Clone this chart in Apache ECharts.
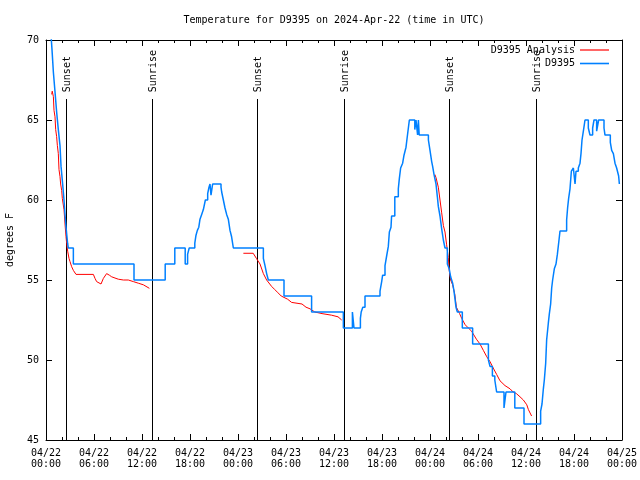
<!DOCTYPE html>
<html><head><meta charset="utf-8">
<script src="https://cdn.jsdelivr.net/npm/echarts@6/dist/echarts.min.js"></script>
<style>html,body{margin:0;padding:0;background:#fff}#c{width:640px;height:480px}</style>
</head><body><div id="c"></div>
<script>
// hours since 2024-04-22 00:00 UTC
const obsTimes = [0.60,0.75,0.92,1.12,1.33,1.54,1.75,1.88,2.08,2.25,2.42,2.58,2.70,2.79,3.42,11.0,14.9,16.1,17.4,17.7,17.9,18.6,18.75,18.92,19.1,19.25,19.46,19.67,19.92,20.21,20.375,20.5,20.625,20.83,21.875,21.96,22.17,22.375,22.58,22.79,23.0,23.2,23.42,27.17,27.375,27.58,27.79,29.75,33.2,37.17,38.3,38.5,39.3,39.4,39.6,39.875,41.75,41.96,42.08,42.375,42.58,42.79,42.92,43.125,43.2,43.6,44.04,44.17,44.33,44.58,44.75,45.0,45.17,45.42,46.1,46.25,46.45,46.55,46.65,47.8,48.0,48.21,48.33,48.5,48.75,48.92,49.04,49.25,49.46,49.67,49.875,50.17,50.4,50.58,50.83,51.0,51.25,51.42,52.04,53.33,55.3,55.5,55.8,56.1,56.33,57.25,57.5,58.6,59.75,61.83,62.0,62.17,62.29,62.46,62.58,62.79,62.92,63.08,63.21,63.33,63.54,63.75,63.92,64.125,64.25,65.08,65.2,65.33,65.5,65.67,65.92,66.13,66.25,66.54,66.75,66.875,67.0,67.17,67.375,67.79,68.0,68.33,68.5,68.83,69.08,69.75,69.875,70.54,70.71,70.92,71.125,71.33,71.58,71.67,71.75];
const obsTemps = [70.5,69.4,68.0,66.8,65.5,64.4,63.4,62.1,61.0,60.0,58.8,57.9,57.3,57.0,56.0,55.0,56.0,57.0,56.0,56.6,57.0,57.3,57.8,58.1,58.3,58.8,59.1,59.4,60.0,60.4,60.8,61.0,60.3,61.0,60.8,60.5,60.0,59.5,59.1,58.8,58.1,57.7,57.0,56.35,55.9,55.4,55.0,54.0,53.0,52.0,53.0,52.0,52.6,53.0,53.3,54.0,54.3,54.9,55.3,55.9,56.5,57.1,58.0,58.3,59.0,60.2,60.7,61.35,62.0,62.3,62.8,63.3,64.0,65.0,64.4,65.0,64.06,65.0,64.06,63.75,63.1,62.4,62.1,61.6,61.0,60.2,59.6,59.0,58.2,57.5,57.0,56.0,55.7,55.2,54.8,54.3,53.3,53.0,52.0,51.0,50.0,49.6,49.0,48.75,48.0,47.0,48.0,47.0,46.0,46.8,47.25,48.2,48.75,49.8,51.25,52.3,52.9,53.5,54.5,55.0,55.7,56.0,56.6,57.5,58.06,58.75,59.5,60.1,60.7,61.8,62.0,61.0,61.8,62.0,62.3,62.9,63.75,64.3,65.0,64.5,64.06,64.5,65.0,64.3,65.0,64.5,64.06,63.6,63.1,62.9,62.3,62.0,61.5,61.0,61.0];
const anaTimes = [0.71,0.78,0.85,0.92,1.0,1.125,1.21,1.33,1.42,1.54,1.625,1.75,1.83,1.96,2.04,2.25,2.375,2.5,2.58,2.71,2.875,3.0,3.21,3.42,3.75,5.92,6.125,6.33,6.875,7.17,7.58,7.92,8.21,8.75,9.04,9.67,10.29,10.92,11.54,12.17,12.92,
  18.0,
  24.67,25.9,26.3,26.75,27.17,27.58,28.2,28.6,29.0,29.4,30.2,30.7,32.0,32.5,33.0,33.6,34.5,35.7,36.5,36.75,36.96,
  42.0,
  48.6,48.75,49.04,49.25,49.46,49.67,49.875,50.08,50.29,50.4,50.58,50.83,51.1,51.3,51.7,51.96,52.4,52.8,53.2,53.8,54.25,54.67,55.1,55.5,55.9,56.33,56.75,57.375,58.0,58.4,58.8,59.25,59.67,60.1,60.3,60.7];
const anaTemps = [66.6,66.8,66.7,66.46,65.6,65.2,64.4,63.96,63.4,62.9,61.9,61.46,61.0,60.6,60.1,59.4,58.5,57.7,57.3,56.8,56.35,56.15,55.83,55.6,55.35,55.35,55.1,54.9,54.75,55.1,55.4,55.3,55.2,55.1,55.05,55.0,55.0,54.9,54.8,54.7,54.48,
  null,
  56.67,56.67,56.35,56.0,55.4,55.0,54.6,54.4,54.2,54.0,53.8,53.6,53.5,53.3,53.2,53.0,52.9,52.8,52.7,52.6,52.5,
  null,
  61.6,61.4,60.8,60.0,59.2,58.4,58.0,57.2,56.4,55.6,55.0,54.7,54.1,53.3,52.9,52.6,52.2,52.0,51.8,51.3,51.0,50.6,50.2,49.9,49.5,49.1,48.7,48.4,48.2,48.0,47.9,47.7,47.5,47.2,46.9,46.5];
const eventTimes = [2.5, 13.3, 26.4, 37.3, 50.4, 61.2];
const eventNames = ['Sunset','Sunrise','Sunset','Sunrise','Sunset','Sunrise'];
const xTickLabels = ['04/22\n00:00','04/22\n06:00','04/22\n12:00','04/22\n18:00','04/23\n00:00','04/23\n06:00','04/23\n12:00','04/23\n18:00','04/24\n00:00','04/24\n06:00','04/24\n12:00','04/24\n18:00','04/25\n00:00'];

const FONT = '"DejaVu Sans Mono", "Liberation Mono", monospace';
const lineTop = 66.3;
const chart = echarts.init(document.getElementById('c'), null, {renderer:'canvas'});
const axisCommon = {
  axisLine:{show:true, onZero:false, lineStyle:{color:'#000', width:1}},
  axisTick:{show:true, inside:true, length:6, lineStyle:{color:'#000'}},
  splitLine:{show:false}
};
const legendCommon = {right:31, align:'right', orient:'vertical', itemWidth:29, padding:0, selectedMode:false, icon:'rect',
  textStyle:{fontFamily:FONT, fontSize:10, color:'#000'}};
chart.setOption({
  animation:false,
  backgroundColor:'#fff',
  title:{text:'Temperature for D9395 on 2024-Apr-22 (time in UTC)', left:334, textAlign:'center', top:15, padding:0,
    textStyle:{fontFamily:FONT, fontSize:10, fontWeight:'normal', color:'#000'}},
  grid:{left:46, right:18, top:40, bottom:40, containLabel:false, outerBoundsMode:'none'},
  legend:[
    Object.assign({data:['D9395 Analysis'], top:45, itemHeight:1.2}, legendCommon),
    Object.assign({data:['D9395'], top:58.5, itemHeight:1.6}, legendCommon)
  ],
  xAxis:[
    Object.assign({type:'value', min:0, max:72, interval:6, position:'bottom',
      minorTick:{show:true, splitNumber:3, length:3, lineStyle:{color:'#000'}},
      axisLabel:{show:true, color:'#000', fontFamily:FONT, fontSize:10, lineHeight:11, margin:8, hideOverlap:false,
        showMinLabel:true, showMaxLabel:true, formatter:v=>xTickLabels[Math.round(v/6)]}}, axisCommon),
    Object.assign({type:'value', min:0, max:72, interval:6, position:'top',
      minorTick:{show:true, splitNumber:3, length:3, lineStyle:{color:'#000'}},
      axisLabel:{show:false}}, axisCommon)
  ],
  yAxis:[
    Object.assign({type:'value', min:45, max:70, interval:5, position:'left',
      name:'degrees F', nameLocation:'middle', nameGap:31, nameRotate:90,
      nameTextStyle:{fontFamily:FONT, fontSize:10, color:'#000'},
      axisLabel:{show:true, color:'#000', fontFamily:FONT, fontSize:10, margin:7}}, axisCommon),
    Object.assign({type:'value', min:45, max:70, interval:5, position:'right',
      axisLabel:{show:false}}, axisCommon)
  ],
  series:[
    {type:'custom', name:'events', silent:true, xAxisIndex:0, yAxisIndex:0,
      data:eventTimes.map(t=>[t, lineTop]),
      renderItem:(params, api)=>{
        const t = api.value(0);
        const p1 = api.coord([t, lineTop]);
        const p2 = api.coord([t, 45]);
        const x = Math.round(p1[0]) + 0.5;
        return {type:'group', children:[
          {type:'line', shape:{x1:x, y1:Math.round(p1[1]), x2:x, y2:p2[1]}, style:{stroke:'#000', lineWidth:1}},
          {type:'text', x:x+1, y:p1[1]-7, rotation:Math.PI/2,
            style:{text:eventNames[params.dataIndex], x:0, y:0, align:'left', verticalAlign:'middle', fill:'#000', font:'10px ' + FONT}}
        ]};
      }},
    {name:'D9395 Analysis', type:'line', xAxisIndex:0, yAxisIndex:0, symbol:'none', connectNulls:false,
      data:anaTimes.map((t,i)=>[t, anaTemps[i]==null ? '-' : anaTemps[i]]),
      lineStyle:{color:'#ff0000', width:1}, itemStyle:{color:'#ff0000'}},
    {name:'D9395', type:'line', step:'end', xAxisIndex:0, yAxisIndex:0, symbol:'none',
      data:obsTimes.map((t,i)=>[t, obsTemps[i]]),
      lineStyle:{color:'#0080ff', width:1.5}, itemStyle:{color:'#0080ff'}}
  ]
});
</script></body></html>
